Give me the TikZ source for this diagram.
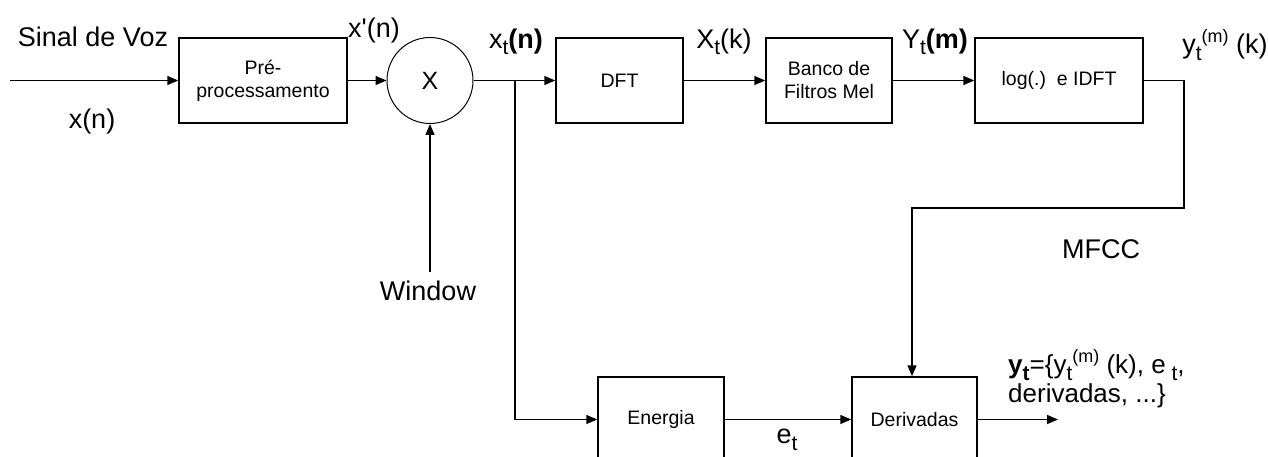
\documentclass[tikz,border=0pt]{standalone}
\usepackage{fontspec}
\setmainfont{Liberation Sans}
\usetikzlibrary{arrows.meta,calc}
\newcommand\lowt[1]{\raisebox{-0.45ex}{\fontsize{21}{21}\selectfont #1}}
\newcommand\hisup[1]{\raisebox{0.8ex}{\fontsize{18}{18}\selectfont #1}}
\begin{document}
\begin{tikzpicture}[x=1pt,y=-1pt,
  blk/.style={draw,line width=1.5pt,rectangle,minimum height=85pt,inner sep=0pt,align=center,font=\fontsize{19.5}{23}\selectfont},
  lbl/.style={inner sep=0pt,font=\fontsize{27}{30}\selectfont},
  conn/.style={line width=1.5pt,-{Triangle[length=11pt,width=9pt]}},
  wire/.style={line width=1.5pt}]
\useasboundingbox (0,0) rectangle (1268,457);
\clip (0,0) rectangle (1268,457);
\fill[white] (0,0) rectangle (1268,457);
% blocks
\node[blk,minimum width=168pt] (pre) at (263,80.5) {Pré-\\processamento};
\node[draw,circle,line width=1pt,minimum size=86pt,inner sep=0pt,font=\fontsize{25}{25}\selectfont] (mult) at (430,80.5) {X};
\node[blk,minimum width=127pt] (dft) at (619.5,80.5) {DFT};
\node[blk,minimum width=126pt] (banco) at (829,80.5) {Banco de\\Filtros Mel};
\node[blk,minimum width=168pt] (log) at (1059,80.5) {log(.)\ \ e IDFT};
\node[blk,minimum width=126pt] (ener) at (661,419.5) {Energia};
\node[blk,minimum width=125pt] (der) at (914.5,419.5) {Derivadas};
% coordinates
\coordinate (in) at (10,80.5);
\coordinate (jn) at (515,80.5);
\coordinate (win) at (430,272);
\coordinate (mf) at (912,208);
\coordinate (out) at (1058,419.5);
% connectors
\draw[conn] (in) -- (pre.west);
\draw[conn] (pre.east) -- (mult.west);
\draw[conn] (mult.east) -- (dft.west);
\draw[conn] (jn) |- (ener.west);
\draw[conn] (dft.east) -- (banco.west);
\draw[conn] (banco.east) -- (log.west);
\draw[conn] (log.east) -- ++(40,0) |- (mf) -- (mf |- der.north);
\draw[conn] (win) -- (mult.south);
\draw[conn] (ener.east) -- (der.west);
\draw[conn] (der.east) -- (out);
% labels
\node[lbl] (l1) at (93,37) {Sinal de Voz};
\node[lbl] (l2) at (92,122) {x(n)};
\node[lbl] (l3) at (374,31) {x\textquotesingle(n)};
\node[lbl] (l4) at (516,42) {x\lowt{t}\textbf{(n)}};
\node[lbl] (l5) at (724,42) {X\lowt{t}(k)};
\node[lbl] (l6) at (935,42) {Y\lowt{t}\textbf{(m)}};
\node[lbl] (l7) at (1225,45) {y\lowt{t}\hisup{(m)} (k)};
\node[lbl] (l8) at (1101,249) {MFCC};
\node[lbl] (l9) at (428,291) {Window};
\node[lbl,anchor=west,align=left,font=\fontsize{26}{29}\selectfont] (l10) at (1008,379) {\textbf{y}\lowt{\textbf{t}}=\{y\lowt{t}\hisup{(m)} (k), e\lowt{ t},\\ derivadas, ...\}};
\node[lbl] (l11) at (787,440) {e\lowt{t}};
\end{tikzpicture}
\end{document}
